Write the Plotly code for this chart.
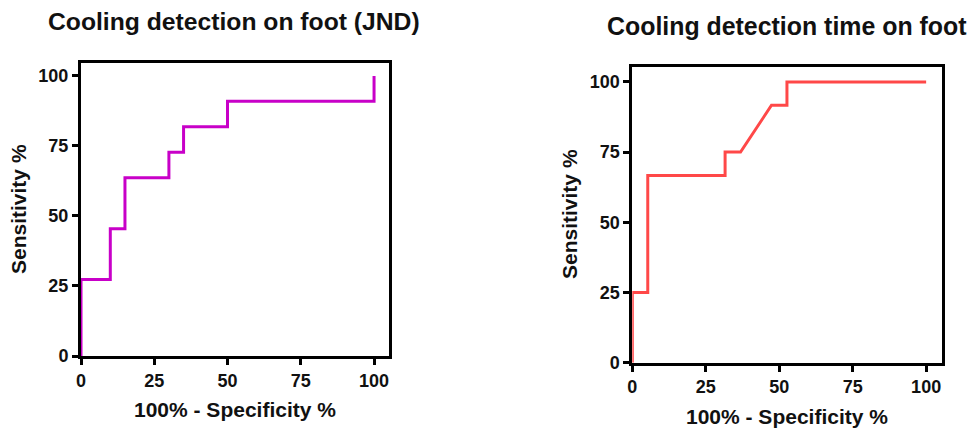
import plotly.graph_objects as go

W, H = 972, 430

# ROC points (100% - specificity, sensitivity)
jnd_fpr = [0, 0, 10, 10, 15, 15, 30, 30, 35, 35, 50, 50, 100, 100]
jnd_sens = [0, 27.27, 27.27, 45.45, 45.45, 63.64, 63.64, 72.73, 72.73, 81.82, 81.82, 90.91, 90.91, 100]

time_fpr = [0, 0, 5.26, 5.26, 31.58, 31.58, 36.84, 47.37, 52.63, 52.63, 100]
time_sens = [0, 25, 25, 66.67, 66.67, 75, 75, 91.67, 91.67, 100, 100]

titles = ["Cooling detection on foot (JND)", "Cooling detection time on foot"]
x_title = "100% - Specificity %"
y_title = "Sensitivity %"
tick_vals = [0, 25, 50, 75, 100]
tick_text = ["0", "25", "50", "75", "100"]

FONT = "Arial, Liberation Sans, sans-serif"

def px_x(p):
    return p / W

def px_y(p):
    return 1 - p / H

fig = go.Figure()
fig.add_trace(go.Scatter(x=jnd_fpr, y=jnd_sens, mode="lines",
                         line=dict(color="#C800C8", width=3),
                         xaxis="x", yaxis="y", showlegend=False))
fig.add_trace(go.Scatter(x=time_fpr, y=time_sens, mode="lines",
                         line=dict(color="#FF4848", width=3),
                         xaxis="x2", yaxis="y2", showlegend=False))

def axis(domain, rng, anchor):
    return dict(domain=domain, range=rng, anchor=anchor, automargin=False,
                tickvals=tick_vals, ticktext=tick_text,
                ticks="outside", ticklen=6, tickwidth=3, tickcolor="black",
                showline=True, linecolor="black", linewidth=3, mirror=True,
                showgrid=False, zeroline=False, layer="below traces",
                tickfont=dict(family=FONT, size=18, color="#111", weight="bold"),
                fixedrange=True)

fig.update_layout(
    width=W, height=H,
    margin=dict(l=0, r=0, t=0, b=0, autoexpand=False),
    paper_bgcolor="white", plot_bgcolor="white",
    xaxis=axis([px_x(81), px_x(388.7)], [0, 105], "y"),
    yaxis=axis([px_y(356), px_y(63.3)], [0, 104.5], "x"),
    xaxis2=axis([px_x(632.3), px_x(942.3)], [0, 105.5], "y2"),
    yaxis2=axis([px_y(362.7), px_y(67.3)], [0, 105.2], "x2"),
)

def ann(text, x, y, size, angle=0):
    fig.add_annotation(text=text, x=px_x(x), y=px_y(y), xref="paper", yref="paper",
                       xanchor="center", yanchor="middle", showarrow=False,
                       textangle=angle,
                       font=dict(family=FONT, size=size, color="#111", weight="bold"))

ann(titles[0], 234, 22, 24.7)
ann(titles[1], 786.7, 26, 24.9)
ann(x_title, 235, 409, 21)
ann(x_title, 787, 416, 21)
ann(y_title, 18.5, 209.5, 21, -90)
ann(y_title, 570, 214, 21, -90)

fig.write_html("out.html")
